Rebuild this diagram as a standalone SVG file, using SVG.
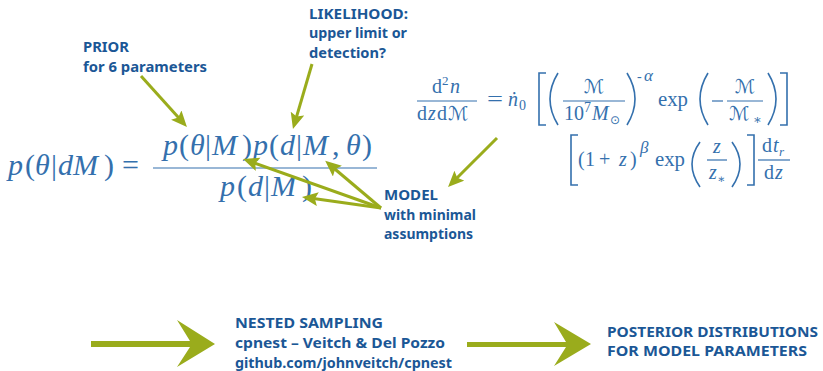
<svg xmlns="http://www.w3.org/2000/svg" width="823" height="371" viewBox="0 0 823 371">
<defs>
<marker id="ah" markerUnits="userSpaceOnUse" markerWidth="18" markerHeight="16" refX="8" refY="7" orient="auto"><path d="M0,0 L16,7 L0,14 L3,7 z" fill="#9aac1c"/></marker>
</defs>
<style>
.lbl{font-family:"Noto Sans","Open Sans",sans-serif;font-weight:700;fill:#1b5796}
.m{font-family:"Liberation Serif","DejaVu Serif",serif;fill:#3470ad}
.i{font-style:italic}
.scr{font-family:"DejaVu Serif","DejaVu Sans",serif;fill:#3470ad}
.bar{stroke:#3470ad;stroke-width:1.2;fill:none}
.del{stroke:#3470ad;stroke-width:1.6;fill:none}
.arr{stroke:#9aac1c;stroke-width:3;fill:none;marker-end:url(#ah)}
.big{fill:#9aac1c}
</style>
<rect width="823" height="371" fill="#ffffff"/>

<g id="bayes">
<text class="m" font-size="30" y="175"><tspan x="8" class="i">p</tspan><tspan x="25">(</tspan><tspan x="35" class="i">θ</tspan><tspan x="51">|</tspan><tspan x="58" class="i">dM</tspan><tspan x="104">)</tspan><tspan x="122">=</tspan></text>
<line class="bar" x1="153" y1="168" x2="377" y2="168"/>
<text class="m" font-size="30" y="155"><tspan x="163" class="i">p</tspan><tspan x="179">(</tspan><tspan x="190" class="i">θ</tspan><tspan x="205">|</tspan><tspan x="212" class="i">M</tspan><tspan x="242">)</tspan><tspan x="253" class="i">p</tspan><tspan x="269">(</tspan><tspan x="280" class="i">d</tspan><tspan x="296">|</tspan><tspan x="303" class="i">M</tspan><tspan x="332">,</tspan><tspan x="346" class="i">θ</tspan><tspan x="362">)</tspan></text>
<text class="m" font-size="30" y="196"><tspan x="220" class="i">p</tspan><tspan x="237">(</tspan><tspan x="248" class="i">d</tspan><tspan x="264">|</tspan><tspan x="271" class="i">M</tspan><tspan x="302">)</tspan></text>
</g>

<g id="rate">
<text class="m" font-size="20" y="93"><tspan x="432">d</tspan><tspan x="442" y="85" font-size="13">2</tspan><tspan x="450" y="93" class="i">n</tspan></text>
<line class="bar" x1="417" y1="101" x2="477" y2="101" stroke-width="1"/>
<text class="m" font-size="20" y="120"><tspan x="417">d</tspan><tspan x="428" class="i">z</tspan><tspan x="437">d</tspan></text>
<text class="scr" font-size="19" x="448" y="120">ℳ</text>
<text class="m" font-size="20" x="487" y="106" textLength="16" lengthAdjust="spacingAndGlyphs">=</text>
<text class="m" font-size="20" y="106"><tspan x="508" class="i">ṅ</tspan><tspan x="519" y="110" font-size="14">0</tspan></text>
<path class="del" d="M546,73 H539 V125 H546"/>
<path class="del" d="M558,73 Q542,99 558,125"/>
<line class="bar" x1="563" y1="101" x2="625" y2="101" stroke-width="1"/>
<text class="scr" font-size="19" x="594" y="93" text-anchor="middle">ℳ</text>
<text class="m" font-size="20" y="120"><tspan x="564">10</tspan><tspan x="584" y="112" font-size="14">7</tspan><tspan x="592" y="120" class="i">M</tspan><tspan x="610" y="124" font-size="12" font-family="DejaVu Sans">⊙</tspan></text>
<path class="del" d="M627,73 Q643,99 627,125"/>
<text class="m" font-size="17" y="81"><tspan x="637" font-size="14">-</tspan><tspan x="644" class="i">α</tspan></text>
<text class="m" font-size="20" x="658" y="106" textLength="30" lengthAdjust="spacingAndGlyphs">exp</text>
<path class="del" d="M708,73 Q692,99 708,125"/>
<line class="bar" x1="712" y1="101" x2="723" y2="101" stroke-width="1.2"/>
<line class="bar" x1="727" y1="101" x2="763" y2="101" stroke-width="1"/>
<text class="scr" font-size="19" x="745" y="93" text-anchor="middle">ℳ</text>
<text class="scr" font-size="19" x="729" y="120">ℳ</text>
<text class="m" font-size="13" x="753" y="124">∗</text>
<path class="del" d="M768,73 Q784,99 768,125"/>
<path class="del" d="M780,73 H787 V125 H780"/>

<path class="del" d="M578,135 H571 V185 H578"/>
<text class="m" font-size="20" y="166"><tspan x="578">(</tspan><tspan x="585">1</tspan><tspan x="599">+</tspan><tspan x="619" class="i">z</tspan><tspan x="630">)</tspan></text>
<text class="m i" font-size="17" x="640" y="153">β</text>
<text class="m" font-size="20" x="655" y="166" textLength="30" lengthAdjust="spacingAndGlyphs">exp</text>
<path class="del" d="M700,142 Q684,164 700,187"/>
<line class="bar" x1="707" y1="160" x2="727" y2="160" stroke-width="1"/>
<text class="m i" font-size="20" x="717" y="153" text-anchor="middle">z</text>
<text class="m i" font-size="20" x="709" y="179">z</text>
<text class="m" font-size="12" x="717" y="183">∗</text>
<path class="del" d="M732,142 Q748,164 732,187"/>
<path class="del" d="M747,135 H754 V185 H747"/>
<line class="bar" x1="758" y1="160" x2="790" y2="160" stroke-width="1"/>
<text class="m" font-size="20" y="152"><tspan x="762">d</tspan><tspan x="773" class="i">t</tspan><tspan x="779" y="156" font-size="13" class="i">r</tspan></text>
<text class="m" font-size="20" y="179"><tspan x="764">d</tspan><tspan x="775" class="i">z</tspan></text>
</g>

<g id="prior">
<text class="lbl" font-size="14" x="83" y="52" textLength="46" lengthAdjust="spacingAndGlyphs">PRIOR</text>
<text class="lbl" font-size="14" x="83" y="72" textLength="124" lengthAdjust="spacingAndGlyphs">for 6 parameters</text>
</g>
<g id="likelihood">
<text class="lbl" font-size="14" x="309" y="19" textLength="99" lengthAdjust="spacingAndGlyphs">LIKELIHOOD:</text>
<text class="lbl" font-size="14" x="309" y="38" textLength="98" lengthAdjust="spacingAndGlyphs">upper limit or</text>
<text class="lbl" font-size="14" x="309" y="58" textLength="77" lengthAdjust="spacingAndGlyphs">detection?</text>
</g>
<g id="model">
<text class="lbl" font-size="14" x="384" y="200" textLength="54" lengthAdjust="spacingAndGlyphs">MODEL</text>
<text class="lbl" font-size="14" x="384" y="220" textLength="92" lengthAdjust="spacingAndGlyphs">with minimal</text>
<text class="lbl" font-size="14" x="384" y="239" textLength="89" lengthAdjust="spacingAndGlyphs">assumptions</text>
</g>
<g id="nested">
<text class="lbl" font-size="15" x="235" y="328" textLength="148" lengthAdjust="spacingAndGlyphs">NESTED SAMPLING</text>
<text class="lbl" font-size="15" x="235" y="348" textLength="210" lengthAdjust="spacingAndGlyphs">cpnest – Veitch &amp; Del Pozzo</text>
<text class="lbl" font-size="15" x="235" y="368" textLength="217" lengthAdjust="spacingAndGlyphs">github.com/johnveitch/cpnest</text>
</g>
<g id="posterior">
<text class="lbl" font-size="15" x="607" y="337" textLength="211" lengthAdjust="spacingAndGlyphs">POSTERIOR DISTRIBUTIONS</text>
<text class="lbl" font-size="15" x="607" y="356" textLength="200" lengthAdjust="spacingAndGlyphs">FOR MODEL PARAMETERS</text>
</g>

<g id="connectors">
<line class="arr" x1="141" y1="76" x2="181.6" y2="121.1"/>
<line class="arr" x1="312" y1="64" x2="295.2" y2="121.3"/>
<line class="arr" x1="381" y1="208" x2="250.6" y2="161.6"/>
<line class="arr" x1="381" y1="208" x2="331.3" y2="166"/>
<line class="arr" x1="381" y1="208" x2="309.9" y2="198"/>
<line class="arr" x1="497" y1="138" x2="453.7" y2="181.3"/>
<polygon class="big" points="91,341 190,341 177,320 215,344 177,367 190,347 91,347"/>
<polygon class="big" points="467,342 566,342 554,322 591,344 554,366 566,347 467,347"/>
</g>
</svg>
